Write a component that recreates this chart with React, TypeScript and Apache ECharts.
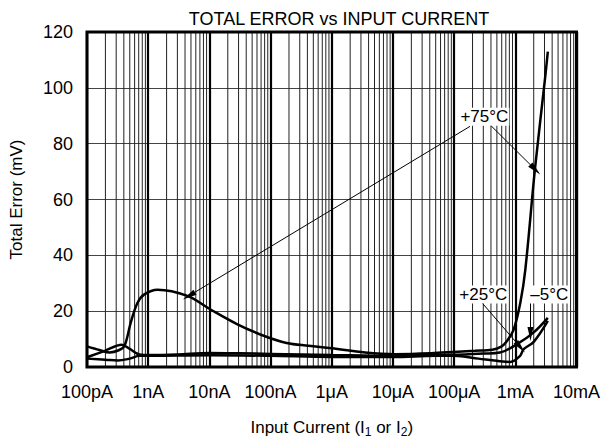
import React, { useEffect, useRef } from 'react';
import * as echarts from 'echarts';

const FONT = '"Liberation Sans", Arial, Helvetica, sans-serif';

const xTickLabels = ['100pA', '1nA', '10nA', '100nA', '1μA', '10μA', '100μA', '1mA', '10mA'];
const decades = [1e-10, 1e-9, 1e-8, 1e-7, 1e-6, 1e-5, 1e-4, 1e-3];
const minorMultipliers = [2, 3, 4, 5, 6, 7, 8, 9];

// Total error (mV) vs input current (A)
const curve75C = [
  [1e-10, 7.4], [1.6e-10, 6.1], [2.34e-10, 5.2], [3.3e-10, 6.0], [4.1e-10, 7.6],
  [5.2e-10, 16], [6.7e-10, 23], [8.65e-10, 26], [1.42e-9, 27.7], [4.37e-9, 25.5],
  [1.03e-8, 20.7], [2.82e-8, 15.4], [7.7e-8, 11.2], [1.83e-7, 8.6], [4.17e-7, 7.6],
  [1e-6, 6.7], [3.5e-6, 5.2], [1.07e-5, 4.6], [4.2e-5, 4.9], [1.15e-4, 5.5],
  [2.2e-4, 5.8], [4.2e-4, 6.2], [6e-4, 7.4], [7.36e-4, 9.4], [9.46e-4, 13.6],
  [1.21e-3, 23.1], [1.46e-3, 35], [2.09e-3, 70.7], [3.05e-3, 103], [3.4e-3, 113],
];
const curve25C = [
  [1e-10, 3.5], [1.96e-10, 5.8], [3.7e-10, 8.0], [5e-10, 6.5], [7.2e-10, 4.5],
  [1.05e-9, 4.3], [3e-9, 4.5], [1e-8, 5.0], [3e-8, 4.9], [1e-7, 4.7], [1e-6, 4.3],
  [1e-5, 4.0], [5e-5, 4.3], [1.5e-4, 4.5], [3e-4, 4.8], [5.6e-4, 5.2], [1.07e-3, 8.2],
  [2e-3, 12.4], [3.4e-3, 17.6],
];
const curveM5C = [
  [1e-10, 3.0], [2e-10, 2.6], [3.2e-10, 2.3], [5e-10, 3.0], [7.2e-10, 4.0], [1e-9, 4.0],
  [1e-8, 4.2], [1e-7, 4.0], [1e-6, 3.6], [1e-5, 3.6], [5e-5, 4.0], [1e-4, 4.0],
  [2.5e-4, 3.0], [5e-4, 2.2], [8.3e-4, 1.8], [1.2e-3, 4.0], [1.37e-3, 6.4], [2e-3, 9.0],
  [3.4e-3, 16.5],
];

// annotation labels: [text, current, error]
const annotationLabels: [string, number, number][] = [
  ['+75°C', 3.12e-4, 89.6],
  ['+25°C', 3.0e-4, 26],
  ['–5°C', 3.6e-3, 26],
];
// annotation arrows: [fromX, fromY, toX, toY]
const annotationArrows: [number, number, number, number][] = [
  [1.82e-4, 86.2, 4.64e-9, 25.5],
  [3.86e-4, 86.8, 2.12e-3, 70.7],
  [2.71e-4, 23.6, 1.21e-3, 7.1],
  [1.77e-3, 23.6, 1.77e-3, 11.8],
];

const minorLines: number[][] = [];
decades.forEach((d) => minorMultipliers.forEach((m) => minorLines.push([d * m, 0])));

export default function App() {
  const ref = useRef<HTMLDivElement>(null);
  useEffect(() => {
    if (!ref.current) return;
    const chart = echarts.init(ref.current, null, { renderer: 'svg' });
    const lineSeries = (name: string, data: number[][]) => ({
      name,
      type: 'line',
      data,
      smooth: 0.35,
      symbol: 'none',
      lineStyle: { color: '#000', width: 2.5 },
      z: 5,
    });
    chart.setOption({
      animation: false,
      backgroundColor: '#fff',
      title: {
        text: 'TOTAL ERROR vs INPUT CURRENT',
        left: 334,
        top: 5,
        textAlign: 'center',
        textStyle: { fontFamily: FONT, fontSize: 18, fontWeight: 'normal', color: '#000' },
      },
      grid: {
        left: 87,
        right: 23,
        top: 32,
        bottom: 75,
        show: true,
        borderColor: '#000',
        borderWidth: 3,
        backgroundColor: 'transparent',
        z: 10,
      },
      xAxis: {
        type: 'log',
        logBase: 10,
        min: 1e-10,
        max: 1e-2,
        interval: 1,
        name: 'Input Current (I{sub|1} or I{sub|2})',
        nameLocation: 'middle',
        nameGap: 50,
        nameTextStyle: {
          fontFamily: FONT,
          fontSize: 17,
          color: '#000',
          rich: {
            sub: { fontFamily: FONT, fontSize: 12, color: '#000', verticalAlign: 'bottom', padding: [9, 0, 0, 0] },
          },
        },
        axisLine: { show: false },
        axisTick: { show: false },
        axisLabel: {
          margin: 16,
          fontFamily: FONT,
          fontSize: 18,
          color: '#000',
          formatter: (v: number) => {
            const i = Math.round(Math.log10(v)) + 10;
            return xTickLabels[i] ?? '';
          },
        },
        splitLine: { show: true, lineStyle: { color: '#000', width: 2.2 } },
      },
      yAxis: {
        type: 'value',
        min: 0,
        max: 120,
        interval: 20,
        name: 'Total Error (mV)',
        nameLocation: 'middle',
        nameRotate: 90,
        nameGap: 62,
        nameTextStyle: { fontFamily: FONT, fontSize: 17, color: '#000' },
        axisLine: { show: false },
        axisTick: { show: false },
        axisLabel: { margin: 14, fontFamily: FONT, fontSize: 18, color: '#000' },
        splitLine: { show: true, lineStyle: { color: '#444', width: 1.2 } },
      },
      series: [
        {
          type: 'custom',
          data: minorLines,
          encode: { x: 0, y: 1 },
          silent: true,
          z: 1,
          renderItem: (_params: any, api: any) => {
            const x = api.value(0);
            const p1 = api.coord([x, 0]);
            const p2 = api.coord([x, 120]);
            return {
              type: 'line',
              shape: { x1: p1[0], y1: p1[1], x2: p2[0], y2: p2[1] },
              style: { stroke: '#222', lineWidth: 1 },
            };
          },
        },
        lineSeries('+75°C', curve75C),
        lineSeries('+25°C', curve25C),
        lineSeries('-5°C', curveM5C),
        {
          type: 'line',
          data: [],
          silent: true,
          z: 8,
          markLine: {
            silent: true,
            label: { show: false },
            lineStyle: { color: '#000', width: 1, type: 'solid' },
            data: annotationArrows.map(([x1, y1, x2, y2]) => [
              { coord: [x1, y1], symbol: 'none' },
              { coord: [x2, y2], symbol: 'triangle', symbolSize: [6, 14] },
            ]),
            animation: false,
          },
          markPoint: {
            silent: true,
            symbol: 'rect',
            symbolSize: 1,
            itemStyle: { color: 'rgba(0,0,0,0)' },
            label: {
              show: true,
              position: 'inside',
              formatter: '{b}',
              fontFamily: FONT,
              fontSize: 17,
              color: '#000',
              backgroundColor: '#fff',
              padding: [1, 1, 0, 1],
            },
            data: annotationLabels.map(([t, x, y]) => ({ name: t, coord: [x, y] })),
            animation: false,
          },
        },
      ],
    });
    return () => chart.dispose();
  }, []);
  return (
    <div
      ref={ref}
      style={{ position: 'fixed', left: 0, top: 0, width: 603, height: 443, background: '#fff' }}
    />
  );
}
